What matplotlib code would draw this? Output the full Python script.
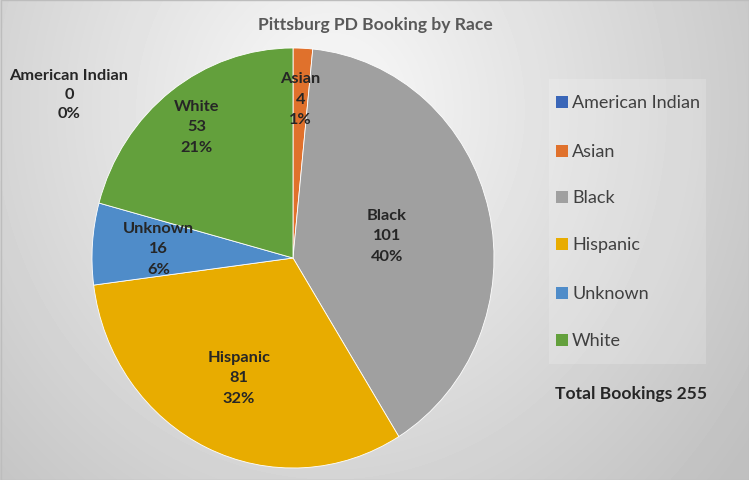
import numpy as np
import matplotlib
matplotlib.use("Agg")
import matplotlib.pyplot as plt
from matplotlib.patches import Rectangle

# --- data ---
races = ["American Indian", "Asian", "Black", "Hispanic", "Unknown", "White"]
bookings = [0, 4, 101, 81, 16, 53]
pct_shown = [0, 1, 40, 32, 6, 21]   # percentages as printed on the chart
total = sum(bookings)
colors = ["#3a66b8", "#e0712c", "#a0a0a0", "#e8ac00", "#4f8cc9", "#63a03c"]
# radial position of the inside labels (fraction of radius), None = placed outside
label_dist = [None, 0.76, 0.48, 0.63, 0.67, 0.79]

plt.rcParams['font.family'] = ['Lato', 'DejaVu Sans']

W, H = 749, 481
fig = plt.figure(figsize=(W / 100, H / 100), dpi=100)

# background: soft radial gradient, light near top centre
bg = fig.add_axes([0, 0, 1, 1])
yy, xx = np.mgrid[0:H, 0:W]
d = np.sqrt(((xx - 330) / 1.0) ** 2 + ((yy - 110) / 1.1) ** 2)
shade = np.clip(0.98 - 0.00044 * d, 0.75, 1.0)
bg.imshow(shade, cmap="gray", vmin=0, vmax=1, extent=[0, W, H, 0], aspect="auto")
bg.set_xlim(0, W)
bg.set_ylim(H, 0)
bg.axis("off")
bg.add_patch(Rectangle((0.5, 0.5), W - 1, H - 1, fill=False, edgecolor="#bdbdbd", lw=1))
# legend panel
bg.add_patch(Rectangle((549, 80), 157, 285, facecolor="white", alpha=0.18, edgecolor="none"))

# --- pie (slightly taller than wide, as in the source image) ---
cx, cy, rx, ry = 293, 259, 201, 210
ax = fig.add_axes([(cx - rx) / W, (H - cy - ry) / H, 2 * rx / W, 2 * ry / H])
wedges, _ = ax.pie(bookings, colors=colors, startangle=90, counterclock=False,
                   radius=1, wedgeprops=dict(edgecolor="white", linewidth=0.6))
ax.set_xlim(-1, 1)
ax.set_ylim(-1, 1)
ax.set_aspect("auto")
ax.axis("off")

lab_kw = dict(ha="center", va="center", fontsize=11.8, fontweight="bold",
              color="#262626", linespacing=1.6)
for w, name, val, pct, dist in zip(wedges, races, bookings, pct_shown, label_dist):
    txt = f"{name}\n{val}\n{pct}%"
    if dist is None:
        fig.text(69 / W, 1 - 95 / H, txt, **dict(lab_kw, linespacing=1.45))
        continue
    ang = np.deg2rad((w.theta1 + w.theta2) / 2)
    ax.text(dist * np.cos(ang), dist * np.sin(ang), txt, **lab_kw)

# title
fig.text(375 / W, 1 - 25 / H, "Pittsburg PD Booking by Race", ha="center", va="center",
         fontsize=12.6, fontweight="bold", color="#595959")

# legend
leg_y = [103, 152, 198, 245, 294, 341]
for name, col, y in zip(races, colors, leg_y):
    bg.add_patch(Rectangle((556, y - 6), 12, 12, facecolor=col, edgecolor="none"))
    bg.text(572, y, name, ha="left", va="center", fontsize=13, color="#404040")

bg.text(555, 394, f"Total Bookings {total}", ha="left", va="center", fontsize=12.6,
        fontweight="bold", color="#262626")

fig.savefig("out.png", dpi=100)
